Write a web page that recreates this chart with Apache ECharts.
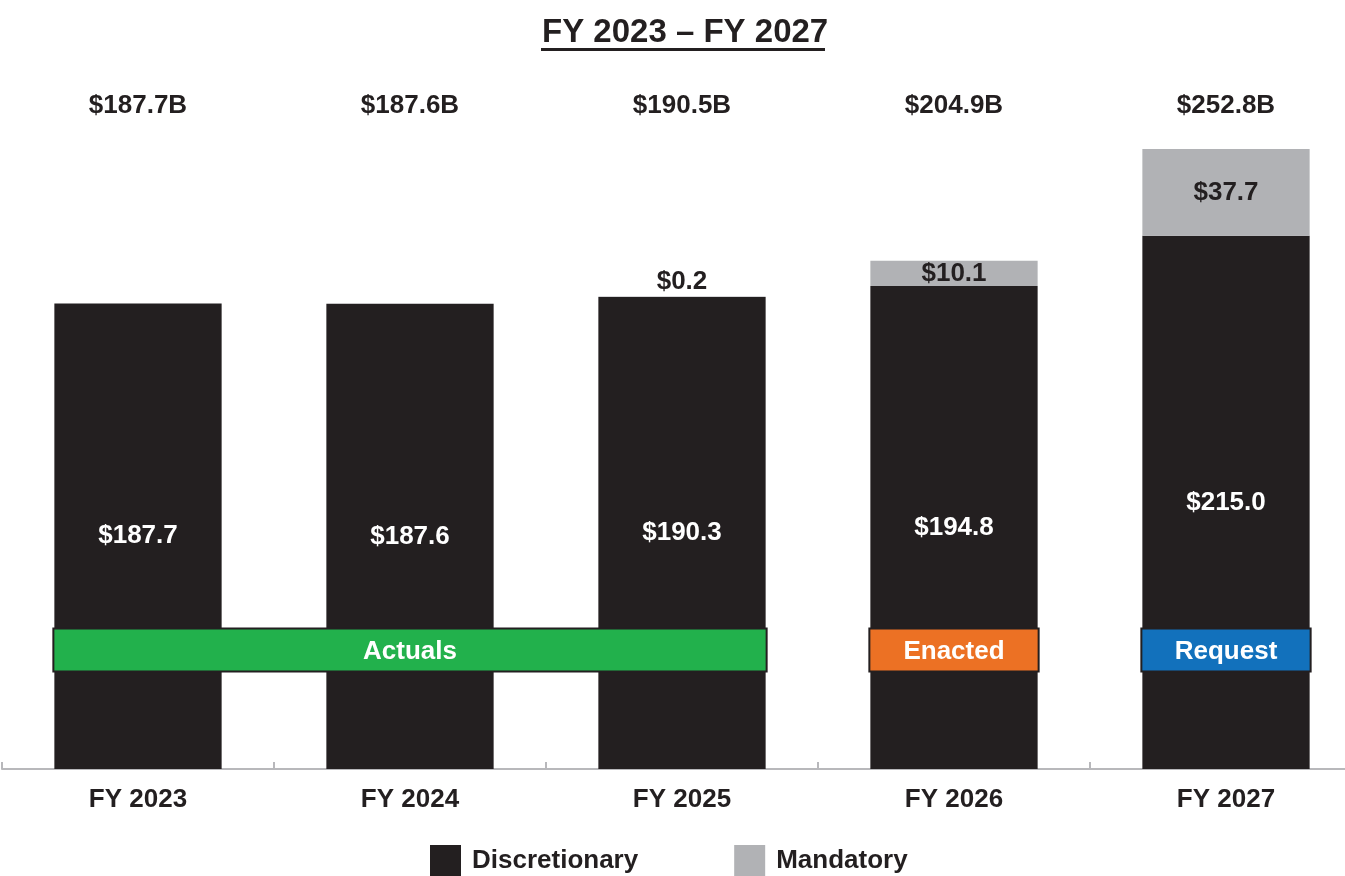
<!DOCTYPE html>
<html>
<head>
<meta charset="utf-8">
<title>FY 2023 – FY 2027</title>
<script src="https://cdn.jsdelivr.net/npm/echarts@6/dist/echarts.min.js"></script>
<style>
  html, body { margin: 0; padding: 0; background: #fff; }
  #chart { width: 1345px; height: 876px; }
</style>
</head>
<body>
<div id="chart"></div>
<script>
// values in $B
const categories = ['FY 2023', 'FY 2024', 'FY 2025', 'FY 2026', 'FY 2027']
const discretionary = [187.7, 187.6, 190.3, 194.8, 215.0]
const mandatory = [null, null, 0.2, 10.1, 37.7]
const totals = [187.7, 187.6, 190.5, 204.9, 252.8]
// status bands: first / last category index covered
const bandNames = ['Actuals', 'Enacted', 'Request']
const bandStart = [0, 3, 4]
const bandEnd = [2, 3, 4]
const bandColors = ['#22b14c', '#ec7124', '#1271bc']

const font = 'Liberation Sans, Arial, sans-serif'
const ink = '#231f20'
const BAR_PCT = 0.615

let chart = echarts.init(document.getElementById('chart'))

let bandData = bandNames.map((name, i) => [bandStart[i], bandEnd[i], name])

let option = {
  animation: false,
  textStyle: { fontFamily: font },
  title: {
    text: 'FY 2023 – FY 2027',
    left: 537,
    top: 11,
    textStyle: { fontSize: 33, fontWeight: 'bold', color: ink, fontFamily: font }
  },
  graphic: [{
    type: 'rect',
    left: 541,
    top: 48,
    shape: { width: 284, height: 3 },
    style: { fill: ink }
  }],
  legend: {
    top: 840,
    left: 425,
    itemWidth: 31,
    itemHeight: 31,
    itemGap: 96,
    icon: 'rect',
    data: ['Discretionary', 'Mandatory'],
    textStyle: { fontSize: 26, fontWeight: 'bold', color: ink, fontFamily: font, padding: [3, 0, 0, 6] }
  },
  grid: { left: 2, width: 1360, top: 149, bottom: 107, containLabel: false, outerBoundsMode: 'none' },
  xAxis: [{
    type: 'category',
    data: categories,
    axisLine: { lineStyle: { color: '#b8b8bb', width: 2 } },
    axisTick: { show: true, interval: 0, inside: true, length: 7, lineStyle: { color: '#b8b8bb', width: 2 } },
    axisLabel: { margin: 18, fontSize: 26, fontWeight: 'bold', color: ink, fontFamily: font }
  }, {
    type: 'category',
    position: 'top',
    data: categories,
    axisLine: { show: false },
    axisTick: { show: false },
    axisLabel: {
      margin: 30,
      fontSize: 26, fontWeight: 'bold', color: ink, fontFamily: font,
      formatter: (v, i) => '$' + totals[i].toFixed(1) + 'B'
    }
  }],
  yAxis: {
    type: 'value',
    min: 0,
    max: 250,
    show: false,
    splitLine: { show: false }
  },
  series: [{
    name: 'Discretionary',
    type: 'bar',
    stack: 'total',
    barWidth: (BAR_PCT * 100) + '%',
    data: discretionary,
    itemStyle: { color: ink },
    label: {
      show: true,
      position: 'inside',
      padding: [4, 0, 0, 0],
      fontSize: 26, fontWeight: 'bold', color: '#fff', fontFamily: font,
      formatter: p => '$' + p.value.toFixed(1)
    }
  }, {
    name: 'Mandatory',
    type: 'bar',
    stack: 'total',
    barWidth: (BAR_PCT * 100) + '%',
    data: mandatory.map(v => {
      if (v == null) return null
      // tiny slices get their label above the bar
      return {
        value: v,
        label: { position: v < 5 ? 'top' : 'inside', distance: 2 }
      }
    }),
    itemStyle: { color: '#b1b2b5' },
    label: {
      show: true,
      fontSize: 26, fontWeight: 'bold', color: ink, fontFamily: font,
      formatter: p => '$' + p.value.toFixed(1)
    }
  }, {
    type: 'custom',
    z: 5,
    data: bandData,
    encode: { x: [0, 1] },
    renderItem (params, api) {
      let p0 = api.coord([api.value(0), 48])
      let p1 = api.coord([api.value(1), 48])
      let half = api.size([1, 0])[0] * BAR_PCT / 2
      let x0 = p0[0] - half - 1
      let x1 = p1[0] + half + 1
      let h = 43
      return {
        type: 'rect',
        shape: { x: x0, y: p0[1] - h / 2, width: x1 - x0, height: h },
        style: {
          fill: bandColors[params.dataIndex],
          stroke: ink,
          lineWidth: 2
        },
        textContent: {
          style: { text: bandNames[params.dataIndex], fill: '#fff', fontSize: 26, fontWeight: 'bold', fontFamily: font }
        },
        textConfig: { position: 'inside', offset: [0, 2] }
      }
    }
  }]
}

chart.setOption(option)
</script>
</body>
</html>
